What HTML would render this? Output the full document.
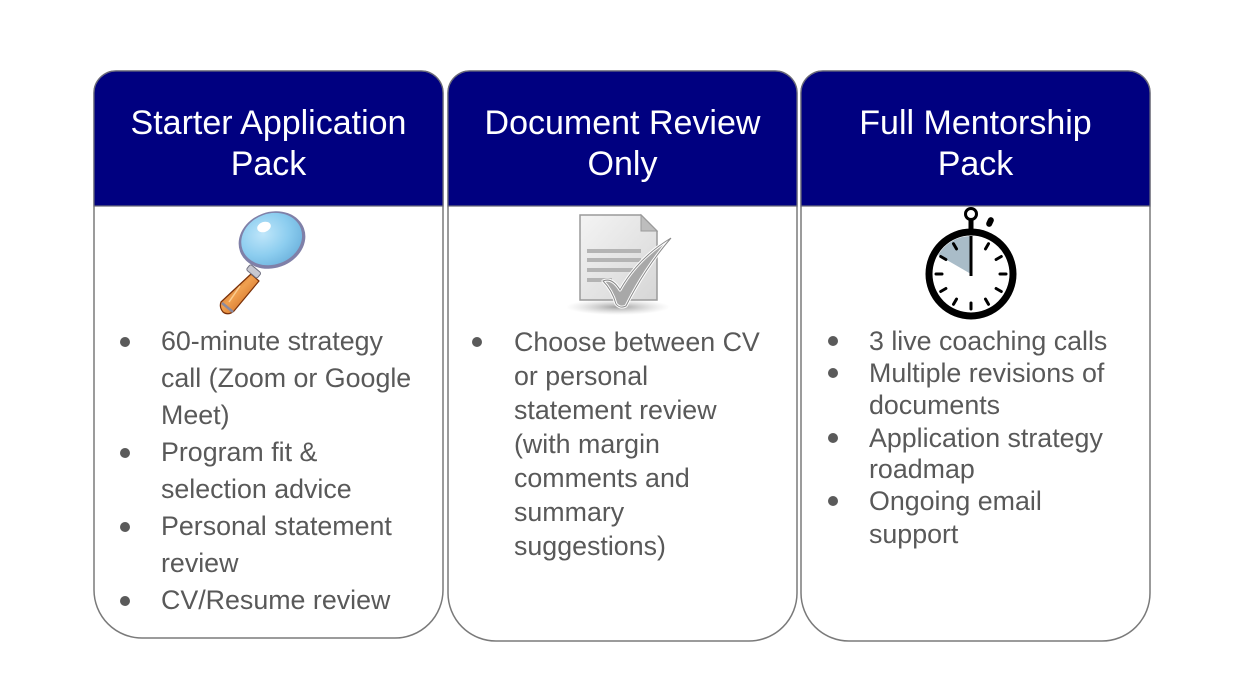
<!DOCTYPE html>
<html>
<head>
<meta charset="utf-8">
<style>
  html,body{margin:0;padding:0;background:#fff;}
  body{width:1252px;height:697px;position:relative;overflow:hidden;font-family:"Liberation Sans",Arial,sans-serif;}
  svg.bg{position:absolute;left:0;top:0;}
  .h{position:absolute;color:#fff;font-size:34px;line-height:41px;text-align:center;white-space:nowrap;}
  .t{position:absolute;color:#595959;font-size:26.8px;white-space:nowrap;}
  .b{position:absolute;width:10px;height:10px;border-radius:50%;background:#5a5a5a;}
</style>
</head>
<body>
<svg class="bg" width="1252" height="697" viewBox="0 0 1252 697" xmlns="http://www.w3.org/2000/svg">
  <defs>
    <radialGradient id="lens" cx="0.4" cy="0.35" r="0.7">
      <stop offset="0" stop-color="#bfe6fa"/>
      <stop offset="0.6" stop-color="#8ccdef"/>
      <stop offset="1" stop-color="#6fb4de"/>
    </radialGradient>
    <linearGradient id="handle" x1="0" y1="0" x2="1" y2="1">
      <stop offset="0" stop-color="#b0460c"/>
      <stop offset="0.45" stop-color="#f0a050"/>
      <stop offset="1" stop-color="#c0550f"/>
    </linearGradient>
    <linearGradient id="paper" x1="0" y1="0" x2="1" y2="1">
      <stop offset="0" stop-color="#f4f4f4"/>
      <stop offset="1" stop-color="#d6d6d6"/>
    </linearGradient>
    <radialGradient id="shadow" cx="0.5" cy="0.5" r="0.5">
      <stop offset="0" stop-color="#888" stop-opacity="0.8"/>
      <stop offset="1" stop-color="#bbb" stop-opacity="0"/>
    </radialGradient>
  </defs>

  <!-- Card 1 -->
  <path d="M116,71 H421 A22,22 0 0 1 443,93 V590 A48,48 0 0 1 395,638 H142 A48,48 0 0 1 94,590 V93 A22,22 0 0 1 116,71 Z" fill="#fff" stroke="#7a7a7a" stroke-width="1.5"/>
  <path d="M116,71 H421 A22,22 0 0 1 443,93 V206 H94 V93 A22,22 0 0 1 116,71 Z" fill="#000080" stroke="#6a6a7a" stroke-width="1.2"/>

  <!-- Card 2 -->
  <path d="M470,71 H775 A22,22 0 0 1 797,93 V593 A48,48 0 0 1 749,641 H496 A48,48 0 0 1 448,593 V93 A22,22 0 0 1 470,71 Z" fill="#fff" stroke="#7a7a7a" stroke-width="1.5"/>
  <path d="M470,71 H775 A22,22 0 0 1 797,93 V206 H448 V93 A22,22 0 0 1 470,71 Z" fill="#000080" stroke="#6a6a7a" stroke-width="1.2"/>

  <!-- Card 3 -->
  <path d="M823,71 H1128 A22,22 0 0 1 1150,93 V593 A48,48 0 0 1 1102,641 H849 A48,48 0 0 1 801,593 V93 A22,22 0 0 1 823,71 Z" fill="#fff" stroke="#7a7a7a" stroke-width="1.5"/>
  <path d="M823,71 H1128 A22,22 0 0 1 1150,93 V206 H801 V93 A22,22 0 0 1 823,71 Z" fill="#000080" stroke="#6a6a7a" stroke-width="1.2"/>

  <!-- Magnifier -->
  <g>
    <path d="M251,274 L259,281 L234,311 Q228,316 223,312 Q219,307 221,302 Z" fill="url(#handle)" stroke="#7a3008" stroke-width="1.2" stroke-linejoin="round"/>
    <path d="M222,303 L233,312" stroke="#8a8aa0" stroke-width="2.5"/>
    <path d="M240,286 L229,302" stroke="#ffd9a0" stroke-width="1.5" opacity="0.8"/>
    <rect x="247" y="268" width="14" height="7" rx="2" fill="#c8c8d0" stroke="#707080" stroke-width="1" transform="rotate(40 254 271)"/>
    <ellipse cx="272" cy="240" rx="34" ry="28" transform="rotate(-20 272 240)" fill="#8080a8"/>
    <ellipse cx="272" cy="239" rx="31" ry="25.5" transform="rotate(-20 272 240)" fill="url(#lens)"/>
    <ellipse cx="264" cy="227" rx="7" ry="5" transform="rotate(-20 264 227)" fill="#fff"/>
  </g>

  <!-- Document with check -->
  <g>
    <ellipse cx="618" cy="307" rx="52" ry="8" fill="url(#shadow)"/>
    <path d="M580,215 H641 L657,231 V300 H580 Z" fill="url(#paper)" stroke="#9a9a9a" stroke-width="1.5"/>
    <path d="M641,215 V231 H657 Z" fill="#bdbdbd" stroke="#9a9a9a" stroke-width="1"/>
    <g stroke="#b4b4b4" stroke-width="4">
      <line x1="587" y1="251" x2="641" y2="251"/>
      <line x1="587" y1="260" x2="641" y2="260"/>
      <line x1="587" y1="270" x2="633" y2="270"/>
      <line x1="587" y1="280" x2="612" y2="280"/>
    </g>
    <path d="M603,281 Q612,277 620,290 Q638,258 671,238 Q645,268 626,306 Q620,309 616,304 Q612,290 603,281 Z" fill="#a8a8a8" stroke="#ffffff" stroke-width="3" stroke-linejoin="round"/>
    <path d="M603,281 Q612,277 620,290 Q638,258 671,238 Q645,268 626,306 Q620,309 616,304 Q612,290 603,281 Z" fill="none" stroke="#8a8a8a" stroke-width="1"/>
  </g>

  <!-- Stopwatch -->
  <g>
    <line x1="971" y1="219" x2="971" y2="230" stroke="#000" stroke-width="5"/>
    <circle cx="971" cy="214" r="5.5" fill="#fff" stroke="#000" stroke-width="3"/>
    <rect x="987" y="217" width="6" height="10" rx="3" fill="#000" transform="rotate(25 990 222)"/>
    <circle cx="971" cy="274" r="42" fill="#fff" stroke="#000" stroke-width="7"/>
    <path d="M971,274 L971,236 A38,38 0 0 0 938.1,255 Z" fill="#a9bcc8"/>
    <g stroke="#000" stroke-width="3" stroke-linecap="round">
      <line x1="971" y1="239" x2="971" y2="245"/>
      <line x1="988.5" y1="243.7" x2="985.5" y2="248.9"/>
      <line x1="1001.3" y1="256.5" x2="996.1" y2="259.5"/>
      <line x1="1006" y1="274" x2="1000" y2="274"/>
      <line x1="1001.3" y1="291.5" x2="996.1" y2="288.5"/>
      <line x1="988.5" y1="304.3" x2="985.5" y2="299.1"/>
      <line x1="971" y1="309" x2="971" y2="303"/>
      <line x1="953.5" y1="304.3" x2="956.5" y2="299.1"/>
      <line x1="940.7" y1="291.5" x2="945.9" y2="288.5"/>
      <line x1="936" y1="274" x2="942" y2="274"/>
      <line x1="940.7" y1="256.5" x2="945.9" y2="259.5"/>
      <line x1="953.5" y1="243.7" x2="956.5" y2="248.9"/>
    </g>
    <line x1="971" y1="276" x2="971" y2="236" stroke="#000" stroke-width="3"/>
  </g>
</svg>

<!-- Headers -->
<div class="h" style="left:94px;width:349px;top:103px;">Starter Application<br>Pack</div>
<div class="h" style="left:448px;width:349px;top:103px;">Document Review<br>Only</div>
<div class="h" style="left:801px;width:349px;top:103px;">Full Mentorship<br>Pack</div>

<!-- Card 1 list -->
<div class="b" style="left:120px;top:337px;"></div>
<div class="t" style="left:161px;top:323px;line-height:37px;">60-minute strategy</div>
<div class="t" style="left:161px;top:360px;line-height:37px;">call (Zoom or Google</div>
<div class="t" style="left:161px;top:397px;line-height:37px;">Meet)</div>
<div class="b" style="left:120px;top:448px;"></div>
<div class="t" style="left:161px;top:434px;line-height:37px;">Program fit &amp;</div>
<div class="t" style="left:161px;top:471px;line-height:37px;">selection advice</div>
<div class="b" style="left:120px;top:522px;"></div>
<div class="t" style="left:161px;top:508px;line-height:37px;">Personal statement</div>
<div class="t" style="left:161px;top:545px;line-height:37px;">review</div>
<div class="b" style="left:120px;top:596px;"></div>
<div class="t" style="left:161px;top:582px;line-height:37px;">CV/Resume review</div>

<!-- Card 2 list -->
<div class="b" style="left:472px;top:337px;"></div>
<div class="t" style="left:514px;top:325px;line-height:34px;">Choose between CV</div>
<div class="t" style="left:514px;top:359px;line-height:34px;">or personal</div>
<div class="t" style="left:514px;top:393px;line-height:34px;">statement review</div>
<div class="t" style="left:514px;top:427px;line-height:34px;">(with margin</div>
<div class="t" style="left:514px;top:461px;line-height:34px;">comments and</div>
<div class="t" style="left:514px;top:495px;line-height:34px;">summary</div>
<div class="t" style="left:514px;top:529px;line-height:34px;">suggestions)</div>

<!-- Card 3 list -->
<div class="b" style="left:828px;top:336px;"></div>
<div class="t" style="left:869px;top:325px;line-height:32px;">3 live coaching calls</div>
<div class="b" style="left:828px;top:368px;"></div>
<div class="t" style="left:869px;top:357px;line-height:32px;">Multiple revisions of</div>
<div class="t" style="left:869px;top:389px;line-height:32px;">documents</div>
<div class="b" style="left:828px;top:433px;"></div>
<div class="t" style="left:869px;top:422px;line-height:32px;">Application strategy</div>
<div class="t" style="left:869px;top:453px;line-height:32px;">roadmap</div>
<div class="b" style="left:828px;top:496px;"></div>
<div class="t" style="left:869px;top:485px;line-height:32px;">Ongoing email</div>
<div class="t" style="left:869px;top:518px;line-height:32px;">support</div>
</body>
</html>
